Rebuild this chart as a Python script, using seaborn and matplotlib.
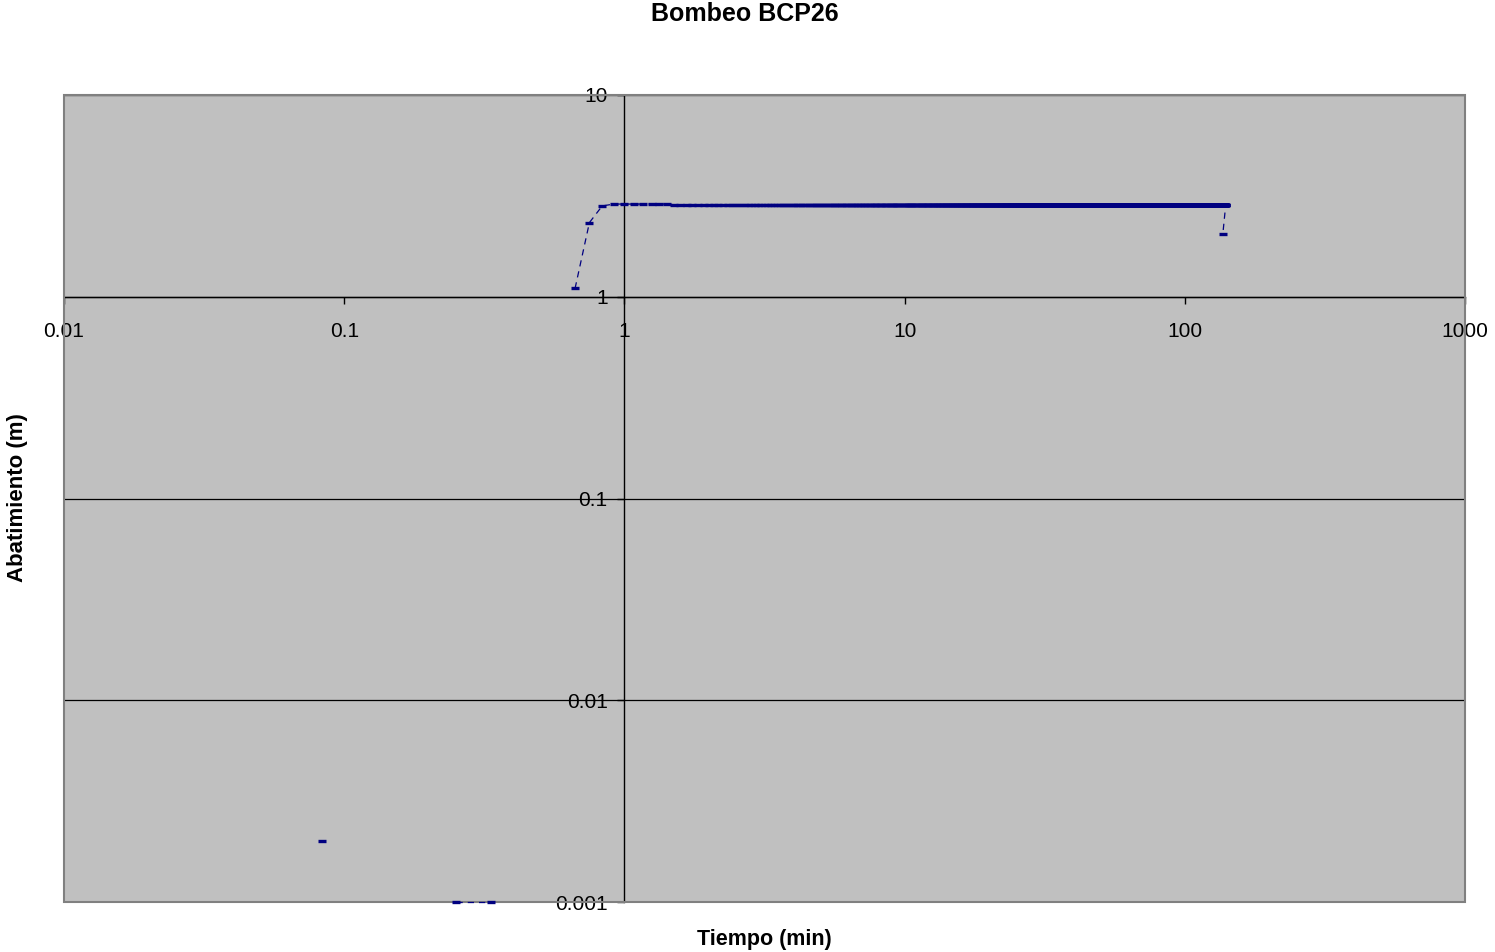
import numpy as np
import pandas as pd
import matplotlib
matplotlib.use("Agg")
import matplotlib.pyplot as plt
from matplotlib.patches import Rectangle
from matplotlib.ticker import FixedLocator, FixedFormatter, NullLocator
import seaborn as sns

# Pumping test BCP26: drawdown logged every 5 seconds
logger_interval_min = 5 / 60

# First minute of readings (drawdown 0 = no measurable change)
t_early = [0.0833, 0.1667, 0.25, 0.3333, 0.4167, 0.5, 0.5833,
           0.6667, 0.75, 0.8333, 0.9167]
s_early = [0.002, 0.0, 0.001, 0.001, 0.0, 0.0, 0.0,
           1.10, 2.33, 2.82, 2.88]

# Stabilised drawdown from minute 1 to the end of pumping
plateau_breaks = [1.0, 1.5, 140.0]
plateau_levels = [2.88, 2.86]

# Last reading recorded after the pump stopped
t_final = [136.7]
s_final = [2.05]

x_ticks = [0.01, 0.1, 1, 10, 100, 1000]
x_tick_labels = ["0.01", "0.1", "1", "10", "100", "1000"]
y_ticks = [0.001, 0.01, 0.1, 1, 10]
y_tick_labels = ["0.001", "0.01", "0.1", "1", "10"]

navy = "#000080"

# ---- assemble the series -------------------------------------------------
t_plateau, s_plateau = [], []
for lo, hi, lvl in zip(plateau_breaks[:-1], plateau_breaks[1:], plateau_levels):
    tt = np.arange(lo, hi - 1e-9, logger_interval_min)
    t_plateau.extend(tt)
    s_plateau.extend([lvl] * len(tt))
t_plateau.append(plateau_breaks[-1])
s_plateau.append(plateau_levels[-1])

t_all = np.array(t_early + list(t_plateau) + t_final, dtype=float)
s_all = np.array(s_early + list(s_plateau) + s_final, dtype=float)

df = pd.DataFrame({"t": t_all, "s": s_all})
# zero drawdown cannot be shown on a log axis: it breaks the line
df["s"] = df["s"].where(df["s"] > 0)
df["run"] = df["s"].isna().cumsum()
df = df.dropna().reset_index(drop=True)

# ---- figure ----------------------------------------------------------------
sns.set_theme(style="white")
plt.rcParams["font.family"] = ["Liberation Sans", "DejaVu Sans"]

W, H = 1495, 952
fig = plt.figure(figsize=(W / 100, H / 100), dpi=100)
fig.patch.set_facecolor("white")
ax = fig.add_axes([64 / W, 1 - 902 / H, 1401 / W, 807 / H])
ax.set_facecolor("#C0C0C0")
ax.set_xscale("log")
ax.set_yscale("log")

sns.lineplot(
    data=df, x="t", y="s", units="run", estimator=None, sort=False,
    color=navy, linewidth=0.9, linestyle=(0, (5, 4)),
    marker="_", markersize=6, markeredgewidth=2.4,
    markeredgecolor=navy, legend=False, ax=ax, zorder=5, clip_on=False,
)

ax.set_xlim(0.01, 1000)
ax.set_ylim(0.001, 10)

# axes cross at (1, 1)
for sp in ["top", "right"]:
    ax.spines[sp].set_visible(False)
ax.spines["left"].set_position(("data", 1))
ax.spines["bottom"].set_position(("data", 1))
for sp in ["left", "bottom"]:
    ax.spines[sp].set_color("black")
    ax.spines[sp].set_linewidth(1.0)
    ax.spines[sp].set_zorder(2)

ax.xaxis.set_major_locator(FixedLocator(x_ticks))
ax.xaxis.set_major_formatter(FixedFormatter(x_tick_labels))
ax.yaxis.set_major_locator(FixedLocator(y_ticks))
ax.yaxis.set_major_formatter(FixedFormatter(y_tick_labels))
ax.xaxis.set_minor_locator(NullLocator())
ax.yaxis.set_minor_locator(NullLocator())

ax.tick_params(axis="both", which="major", direction="out", length=5,
               width=1, color="black", labelsize=15, labelcolor="black",
               bottom=True, left=True)
ax.tick_params(axis="x", pad=13)
ax.tick_params(axis="y", pad=7)

ax.yaxis.grid(True, color="black", linewidth=0.9)
ax.xaxis.grid(False)
ax.set_axisbelow(True)
ax.set_xlabel("")
ax.set_ylabel("")

# plot-area frame
ax.add_patch(Rectangle((0, 0), 1, 1, transform=ax.transAxes, fill=False,
                       edgecolor="#808080", linewidth=1.5, zorder=4,
                       clip_on=False))

fig.text(745 / W, 1 - 14 / H, "Bombeo BCP26", ha="center", va="center",
         fontsize=18, fontweight="bold", color="black")
fig.text(764 / W, 1 - 940 / H, "Tiempo (min)", ha="center", va="center",
         fontsize=15.5, fontweight="bold", color="black")
fig.text(18 / W, 1 - 498 / H, "Abatimiento (m)", ha="center", va="center",
         rotation=90, fontsize=16, fontweight="bold", color="black")

fig.savefig("out.png", dpi=100, facecolor="white")
